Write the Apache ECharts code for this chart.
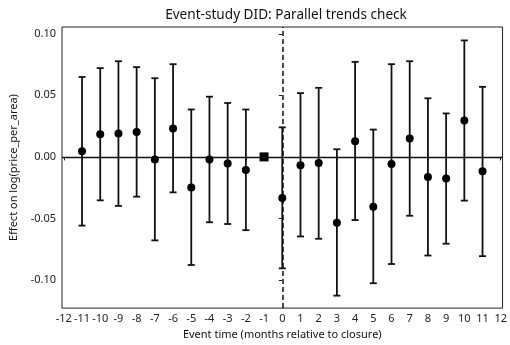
<!DOCTYPE html>
<html>
<head>
<meta charset="utf-8">
<script src="https://cdn.jsdelivr.net/npm/echarts@6/dist/echarts.min.js"></script>
<style>
  html, body { margin: 0; padding: 0; background: #fff; }
  #main { width: 510px; height: 345px; }
</style>
</head>
<body>
<div id="main"></div>
<script>
// event time (months relative to closure); -1 is the reference period
var eventTime = [-11, -10, -9, -8, -7, -6, -5, -4, -3, -2, 0, 1, 2, 3, 4, 5, 6, 7, 8, 9, 10, 11];
var estimate = [0.0046, 0.0184, 0.0190, 0.0203, -0.0021, 0.0230, -0.0248, -0.0021, -0.0053, -0.0107,
  -0.0333, -0.0067, -0.0050, -0.0534, 0.0128, -0.0405, -0.0058, 0.0150, -0.0163, -0.0176, 0.0296, -0.0117];
var ciLow = [-0.0558, -0.0353, -0.0398, -0.0323, -0.0678, -0.0288, -0.0878, -0.0531, -0.0545, -0.0595,
  -0.0905, -0.0646, -0.0665, -0.1127, -0.0513, -0.1026, -0.0870, -0.0478, -0.0801, -0.0705, -0.0355, -0.0806];
var ciHigh = [0.0649, 0.0721, 0.0777, 0.0729, 0.0639, 0.0753, 0.0385, 0.0489, 0.0438, 0.0385,
  0.0240, 0.0518, 0.0561, 0.0062, 0.0772, 0.0222, 0.0753, 0.0777, 0.0476, 0.0353, 0.0946, 0.0569];
var refPoint = [[-1, 0]];

var xTicks = [-12, -11, -10, -9, -8, -7, -6, -5, -4, -3, -2, -1, 0, 1, 2, 3, 4, 5, 6, 7, 8, 9, 10, 11, 12];
var yTicks = [-0.10, -0.05, 0.00, 0.05, 0.10];

var font = '"Noto Sans", "Noto Sans CJK KR", sans-serif';

var chart = echarts.init(document.getElementById('main'), null, { renderer: 'canvas' });

var points = eventTime.map(function (t, i) { return [t, estimate[i]]; });
var bars = eventTime.map(function (t, i) { return [t, ciLow[i], ciHigh[i]]; });

function renderErrorBar(params, api) {
  var x = api.value(0);
  var lo = api.coord([x, api.value(1)]);
  var hi = api.coord([x, api.value(2)]);
  var cap = 3.5;
  var style = { stroke: '#111', lineWidth: 1.8 };
  return {
    type: 'group',
    children: [
      { type: 'line', shape: { x1: lo[0], y1: lo[1], x2: hi[0], y2: hi[1] }, style: style },
      { type: 'line', shape: { x1: lo[0] - cap, y1: lo[1], x2: lo[0] + cap, y2: lo[1] }, style: style },
      { type: 'line', shape: { x1: hi[0] - cap, y1: hi[1], x2: hi[0] + cap, y2: hi[1] }, style: style }
    ]
  };
}

// filled square marker for the omitted reference period
function renderSquare(params, api) {
  var p = api.coord([api.value(0), api.value(1)]);
  var s = 9;
  return {
    type: 'rect',
    shape: { x: p[0] - s / 2, y: p[1] - s / 2, width: s, height: s },
    style: { fill: '#000' }
  };
}

var option = {
  animation: false,
  backgroundColor: '#fff',
  title: {
    text: 'Event-study DID: Parallel trends check',
    left: 281,
    top: 3,
    textAlign: 'center',
    textStyle: { fontFamily: font, fontSize: 13.6, fontWeight: 'normal', color: '#111' }
  },
  grid: {
    left: 55, right: 4, top: 27, bottom: 34,
    show: true, borderColor: '#222', borderWidth: 1, backgroundColor: 'transparent'
  },
  xAxis: {
    type: 'value',
    min: -12.1, max: 12.1,
    name: 'Event time (months relative to closure)',
    nameLocation: 'middle',
    nameGap: 20,
    nameTextStyle: { fontFamily: font, fontSize: 11, color: '#111' },
    axisLine: { show: false },
    splitLine: { show: false },
    axisTick: { show: true, length: 3.5, lineStyle: { color: '#222' }, customValues: xTicks },
    axisLabel: { fontFamily: font, fontSize: 11, color: '#222', margin: 5, customValues: xTicks }
  },
  yAxis: {
    type: 'value',
    min: -0.1228, max: 0.1055,
    name: 'Effect on log(price_per_area)',
    nameLocation: 'middle',
    nameGap: 43,
    nameTextStyle: { fontFamily: font, fontSize: 11, color: '#111' },
    axisLine: { show: false },
    splitLine: { show: false },
    axisTick: { show: true, length: 3.5, lineStyle: { color: '#222' }, customValues: yTicks },
    axisLabel: {
      fontFamily: font, fontSize: 11, color: '#222', margin: 6, customValues: yTicks,
      formatter: function (v) { return v.toFixed(2); }
    }
  },
  series: [
    {
      type: 'line',
      data: [],
      silent: true,
      z: 1,
      markLine: {
        symbol: 'none',
        silent: true,
        z: 1,
        label: { show: false },
        data: [
          { yAxis: 0, lineStyle: { color: '#111', width: 1.3, type: 'solid' } },
          { xAxis: 0, lineStyle: { color: '#111', width: 1.5, type: [5, 3] } }
        ]
      }
    },
    {
      type: 'custom',
      renderItem: renderErrorBar,
      data: bars,
      encode: { x: 0, y: [1, 2] },
      z: 3
    },
    {
      type: 'scatter',
      data: points,
      symbol: 'circle',
      symbolSize: 8,
      itemStyle: { color: '#000', opacity: 1 },
      z: 4
    },
    {
      type: 'custom',
      renderItem: renderSquare,
      data: refPoint,
      encode: { x: 0, y: 1 },
      z: 10
    }
  ]
};

chart.setOption(option);
</script>
</body>
</html>
